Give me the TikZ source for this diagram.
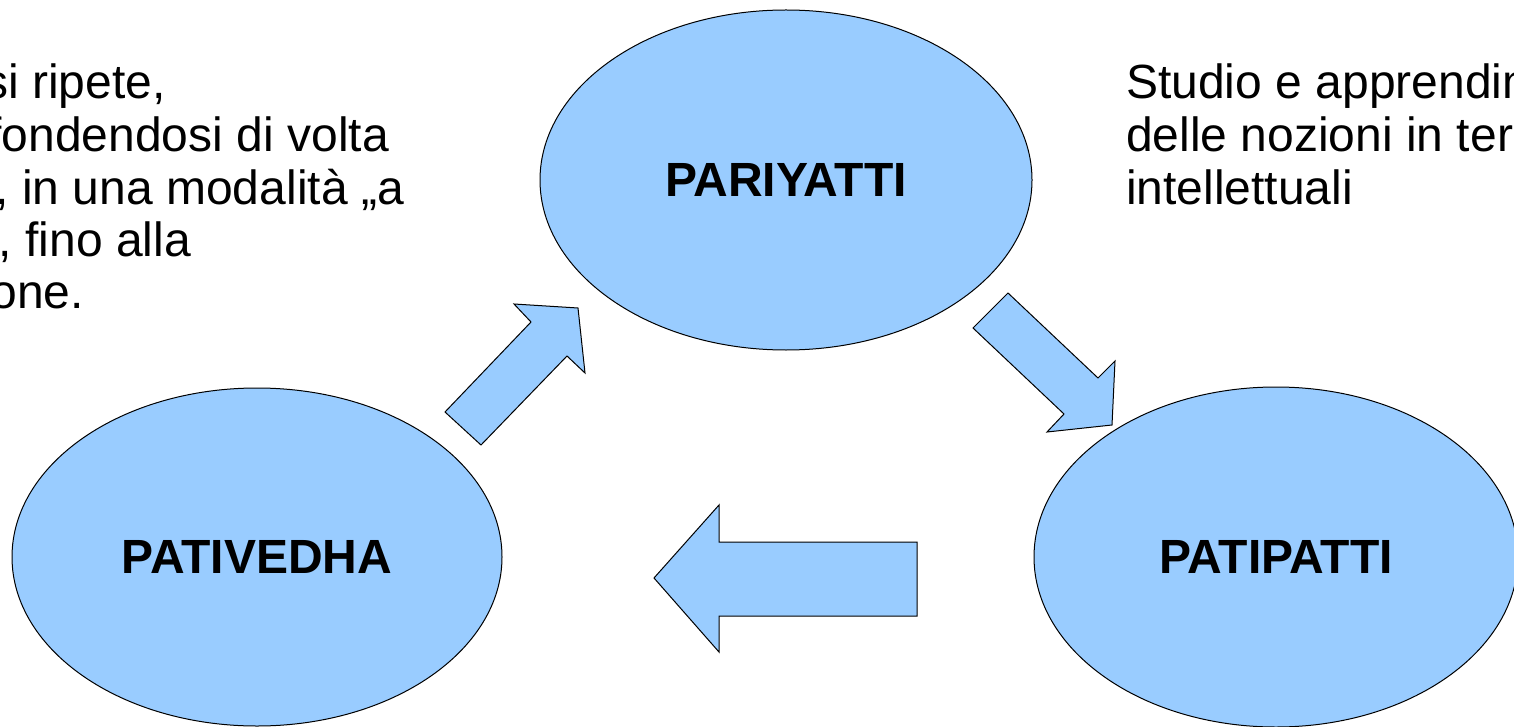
\documentclass[tikz,border=0pt]{standalone}
\usepackage{fontspec}
\setmainfont{Liberation Sans}
\usetikzlibrary{shapes.geometric}
\definecolor{blobfill}{HTML}{99CCFF}
\begin{document}
\begin{tikzpicture}[x=1pt,y=-1pt,
  blob/.style={ellipse, draw=black, fill=blobfill, line width=1pt, inner sep=0pt,
    font=\fontsize{48}{54}\selectfont\bfseries},
  blockarrow/.style={draw=black, fill=blobfill, line width=1pt, line join=miter},
  txt/.style={inner sep=0pt, font=\fontsize{48}{54}\selectfont}]
\useasboundingbox (0,0) rectangle (1514,727);
\fill[white] (0,0) rectangle (1514,727);

% ellipses
\node[blob, minimum width=492pt, minimum height=340pt] (pariyatti) at (786,180) {PARIYATTI};
\node[blob, minimum width=490pt, minimum height=338pt] (pativedha) at (257,557) {PATIVEDHA};
\node[blob, minimum width=484pt, minimum height=340pt] (patipatti) at (1276,557) {PATIPATTI};

% block arrows
\draw[blockarrow] (445,412) -- (531,322) -- (514,304) -- (578,308) -- (585,373) -- (567,356) -- (481,445) -- cycle;
\draw[blockarrow] (1008,293) -- (1098,378) -- (1115,361) -- (1112,425) -- (1047,432) -- (1064,414) -- (973,328) -- cycle;
\draw[blockarrow] (654,578) -- (719,505) -- (719,542) -- (917,542) -- (917,616) -- (719,616) -- (719,652) -- cycle;

% left text (clipped at the page edge)
\node[txt, anchor=base east] (l1) at (166,99) {si ripete,};
\node[txt, anchor=base east] (l2) at (389,152) {fondendosi di volta};
\node[txt, anchor=base east] (l3) at (404,205) {, in una modalità „a};
\node[txt, anchor=base east] (l4) at (191,257) {, fino alla};
\node[txt, anchor=base east] (l5) at (84,308) {one.};

% right text (clipped at the page edge)
\node[txt, anchor=base west] (r1) at (1126,99) {Studio e apprendim};
\node[txt, anchor=base west] (r2) at (1126,152) {delle nozioni in ter};
\node[txt, anchor=base west] (r3) at (1126,205) {intellettuali};
\end{tikzpicture}
\end{document}
